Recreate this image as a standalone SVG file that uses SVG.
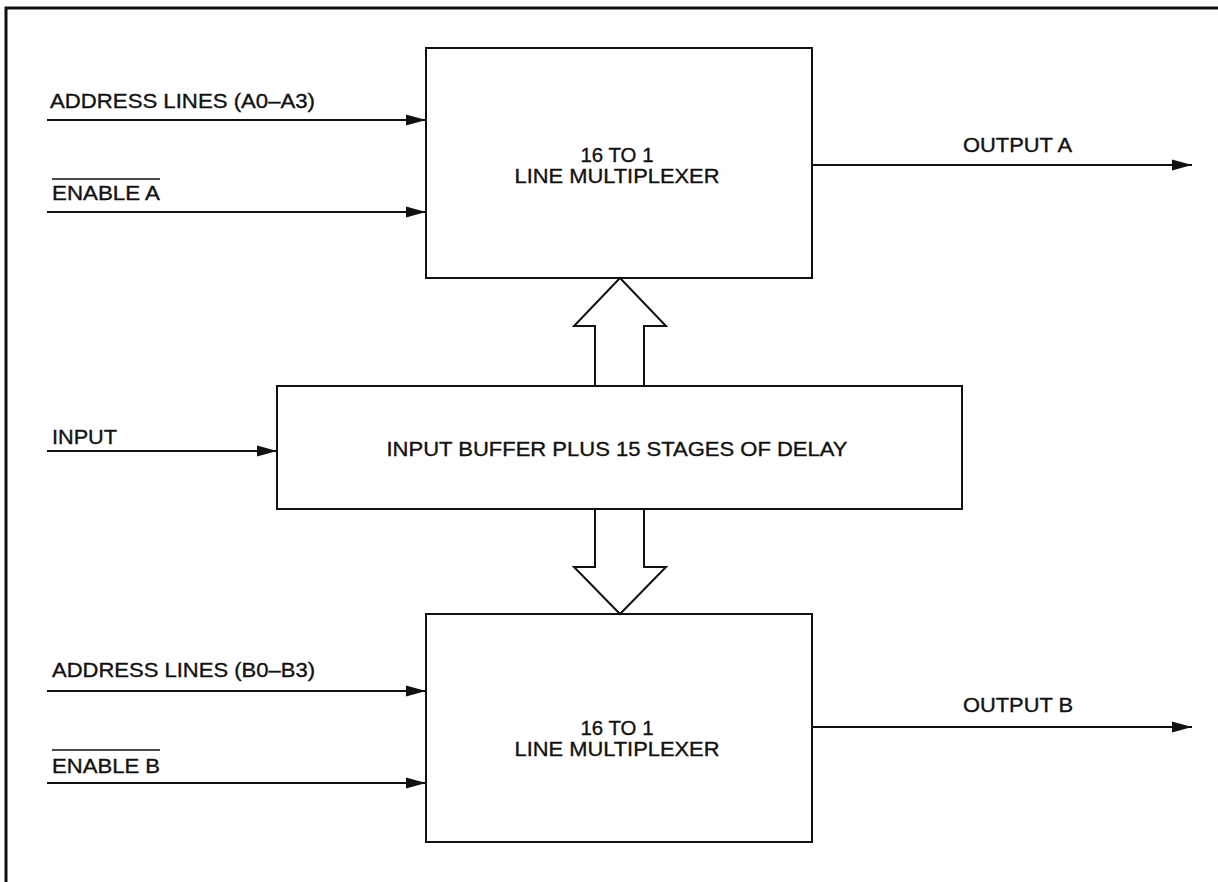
<svg xmlns="http://www.w3.org/2000/svg" width="1218" height="882" viewBox="0 0 1218 882">
<style>
.box{fill:#fff;stroke:#111;stroke-width:2}
.ln{stroke:#111;stroke-width:2;fill:none}
.t{font-family:"Liberation Sans",Arial,sans-serif;font-size:21px;fill:#111;stroke:#111;stroke-width:0.35}
.c{text-anchor:middle}
.ol{stroke:#111;stroke-width:1.5}
</style>
<defs>
<marker id="ah" markerWidth="20" markerHeight="12" refX="20" refY="6" orient="auto" markerUnits="userSpaceOnUse">
<path d="M0,0.5 L20,6 L0,11.5 Z" fill="#111"/>
</marker>
</defs>
<rect width="1218" height="882" fill="#fff"/>
<path d="M6,882 V8 H1218" fill="none" stroke="#111" stroke-width="3"/>

<g id="mux-a">
<rect class="box" x="426" y="48" width="386" height="230"/>
<text class="t c" x="617" y="162" textLength="73" lengthAdjust="spacingAndGlyphs">16 TO 1</text>
<text class="t c" x="617" y="183" textLength="205" lengthAdjust="spacingAndGlyphs">LINE MULTIPLEXER</text>
</g>
<g id="buffer">
<rect class="box" x="277" y="386" width="685" height="123"/>
<text class="t c" x="617" y="456" textLength="461" lengthAdjust="spacingAndGlyphs">INPUT BUFFER PLUS 15 STAGES OF DELAY</text>
</g>
<g id="mux-b">
<rect class="box" x="426" y="614" width="386" height="228"/>
<text class="t c" x="617" y="735" textLength="73" lengthAdjust="spacingAndGlyphs">16 TO 1</text>
<text class="t c" x="617" y="756" textLength="205" lengthAdjust="spacingAndGlyphs">LINE MULTIPLEXER</text>
</g>

<g id="connectors">
<line class="ln" x1="47" y1="120" x2="426" y2="120" marker-end="url(#ah)"/>
<line class="ln" x1="47" y1="212" x2="426" y2="212" marker-end="url(#ah)"/>
<line class="ln" x1="47" y1="451" x2="277" y2="451" marker-end="url(#ah)"/>
<line class="ln" x1="47" y1="691" x2="426" y2="691" marker-end="url(#ah)"/>
<line class="ln" x1="47" y1="783" x2="426" y2="783" marker-end="url(#ah)"/>
<line class="ln" x1="812" y1="165" x2="1192" y2="165" marker-end="url(#ah)"/>
<line class="ln" x1="812" y1="727" x2="1192" y2="727" marker-end="url(#ah)"/>
<polygon class="box" points="620,278 666,326 644,326 644,386 595,386 595,326 574,326"/>
<polygon class="box" points="595,509 644,509 644,567 666,567 620,614 574,567 595,567"/>
</g>

<g id="labels">
<text class="t" x="50" y="108" textLength="265" lengthAdjust="spacingAndGlyphs">ADDRESS LINES (A0–A3)</text>
<text class="t" x="52" y="200" textLength="108" lengthAdjust="spacingAndGlyphs">ENABLE A</text>
<line class="ol" x1="52" y1="179" x2="160" y2="179"/>
<text class="t" x="52" y="444" textLength="65" lengthAdjust="spacingAndGlyphs">INPUT</text>
<text class="t" x="52" y="677" textLength="263" lengthAdjust="spacingAndGlyphs">ADDRESS LINES (B0–B3)</text>
<text class="t" x="52" y="773" textLength="108" lengthAdjust="spacingAndGlyphs">ENABLE B</text>
<line class="ol" x1="52" y1="750" x2="160" y2="750"/>
<text class="t" x="963" y="152" textLength="109" lengthAdjust="spacingAndGlyphs">OUTPUT A</text>
<text class="t" x="963" y="712" textLength="110" lengthAdjust="spacingAndGlyphs">OUTPUT B</text>
</g>
</svg>
